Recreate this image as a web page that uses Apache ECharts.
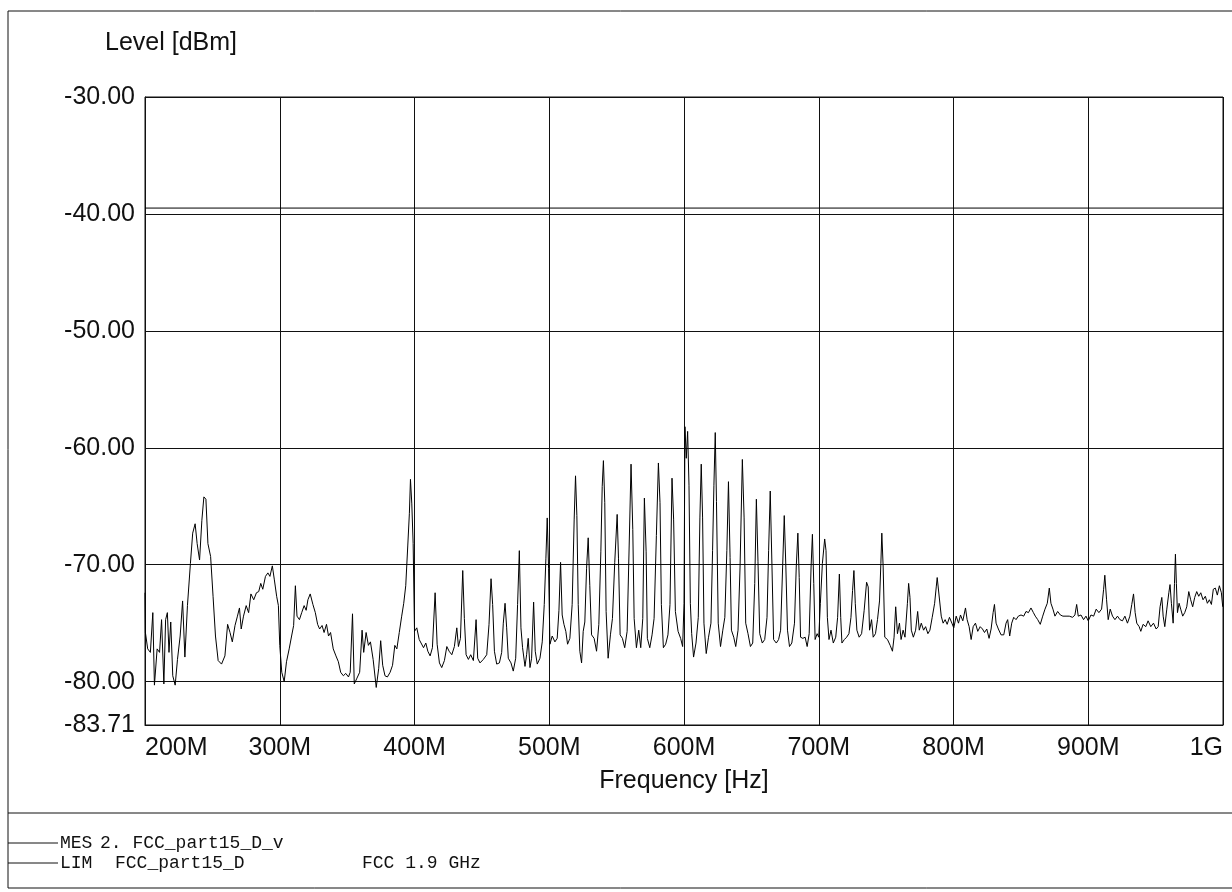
<!DOCTYPE html>
<html>
<head>
<meta charset="utf-8">
<script src="https://cdn.jsdelivr.net/npm/echarts@6/dist/echarts.min.js"></script>
<style>
  html, body { margin: 0; padding: 0; background: #fff; }
  #chart { width: 1232px; height: 892px; }
</style>
</head>
<body>
<div id="chart"></div>
<script>
// ---- data (frequency in MHz, level in dBm) ----
const xTickValues = [200, 300, 400, 500, 600, 700, 800, 900, 1000];
const xTickLabels = ['200M', '300M', '400M', '500M', '600M', '700M', '800M', '900M', '1G'];
const yMin = -83.71;
const yMax = -30;

const limitFreq = [200, 1000];
const limitLevel = [-39.5, -39.5];

const mesSeg1 = [
  [200.0,-72.4],[200.3,-75.8],[202.0,-77.2],[204.0,-77.5],[205.8,-74.1],[207.0,-80.3],[209.0,-77.2],[210.8,-77.5],
  [212.3,-74.7],[214.0,-80.2],[215.3,-74.7],[216.6,-74.1],[217.8,-77.5],[219.1,-74.9],[220.6,-79.5],[222.4,-80.3],
  [224.1,-78.1],[226.1,-76.1],[227.9,-73.1],[229.6,-77.9],[231.5,-73.5],[233.7,-69.9],[235.4,-67.3],[237.2,-66.5],
  [238.7,-68.2],[240.5,-69.6],[242.2,-66.2],[243.7,-64.2],[245.2,-64.4],[246.7,-68.2],[248.7,-69.3],[250.5,-72.7],
  [252.3,-76.1],[254.3,-78.2],[256.8,-78.5],[259.3,-77.8],[261.3,-75.1],[263.1,-75.8],[264.8,-76.6],[266.8,-75.2],
  [268.6,-74.4],[270.1,-73.7],[271.4,-75.5],[273.1,-74.4],[275.1,-73.5],[276.9,-74.1],[278.6,-72.5],[280.7,-73.0],
  [282.7,-72.4],[284.4,-72.3],[285.9,-71.6],[287.4,-72.1],[289.4,-71.0],[291.2,-70.7],[292.7,-71.0],[294.5,-70.1],
  [296.0,-71.3],[297.7,-72.7],[299.0,-73.5],[300.0,-76.9],[301.5,-79.2],[303.3,-80.0],[305.0,-78.3],[307.0,-77.2],
  [308.8,-76.1],[310.3,-75.2],[311.6,-71.8],[312.8,-74.4],[314.6,-74.7],[316.3,-74.1],[318.1,-73.5],[319.6,-73.9],
  [320.9,-73.0],[322.6,-72.5],[324.6,-73.4],[326.4,-74.1],[328.1,-75.1],[329.6,-75.5],[331.4,-75.2],[332.9,-75.8],
  [334.7,-75.1],[336.2,-76.1],[337.7,-75.8],[339.7,-77.2],[341.7,-77.8],[343.5,-78.3],[345.2,-79.2],[347.2,-79.5],
  [349.0,-79.3],[351.0,-79.6],[352.3,-79.2],[354.0,-74.2],[355.3,-80.2],[357.3,-79.7],[359.3,-79.2],[361.1,-75.6],
  [362.3,-77.5],[364.1,-75.8],[365.8,-76.9],[367.3,-76.6],[369.3,-78.1],[371.6,-80.5],[373.4,-78.9],[374.9,-76.5],
  [376.4,-78.6],[378.1,-79.5],[379.9,-79.6],[381.9,-79.2],[383.7,-78.6],[385.4,-76.9],[386.9,-77.2],[388.7,-75.8],
  [390.5,-74.4],[392.0,-73.3],[393.5,-71.8],[395.0,-68.4],[396.2,-65.6],[397.0,-62.7],[398.0,-64.8],[399.0,-68.2]
];

const mesSeg2 = [
  [400.0,-75.7],[401.7,-75.4],[403.5,-76.4],[404.9,-76.3],[406.7,-77.1],[408.4,-76.7],[409.9,-77.4],[411.6,-77.8],
  [413.3,-77.1],[415.3,-72.4],[416.8,-76.8],[418.5,-78.4],[420.2,-78.8],[422.2,-78.2],[424.0,-77.0],[425.7,-77.4],
  [427.7,-77.7],[429.6,-77.0],[431.4,-75.4],[432.6,-77.0],[434.1,-76.3],[435.8,-70.5],[437.0,-74.6],[438.3,-77.7],
  [440.0,-78.1],[441.7,-77.7],[443.7,-78.2],[445.7,-74.7],[446.9,-78.0],[448.6,-78.4],[451.1,-78.1],[453.6,-77.7],
  [455.3,-75.1],[456.8,-71.2],[458.0,-73.4],[459.3,-77.4],[461.0,-78.5],[463.0,-78.4],[464.7,-77.5],[465.9,-75.0],
  [467.2,-73.3],[468.4,-75.4],[469.6,-78.0],[471.6,-78.4],[473.3,-79.1],[475.1,-78.0],[476.5,-73.4],[477.8,-68.8],
  [479.0,-75.4],[480.2,-77.1],[482.0,-78.7],[483.2,-77.7],[484.4,-76.3],[485.7,-78.8],[486.9,-78.0],[488.4,-73.2],
  [489.6,-77.4],[491.1,-78.5],[493.1,-78.0],[494.8,-76.6],[496.3,-73.4],[497.5,-69.5],[498.5,-66.0],[499.5,-70.3],
  [500.5,-76.8],[502.2,-76.1],[504.2,-76.6],[505.9,-76.3],[507.2,-73.9],[508.4,-69.8],[509.6,-74.3],[510.9,-75.1],
  [512.3,-75.7],[513.6,-76.8],[515.3,-76.3],[517.0,-73.4],[518.5,-66.1],[519.5,-62.4],[520.5,-65.8],[521.5,-73.4],
  [522.7,-77.4],[524.0,-78.4],[525.2,-75.7],[526.4,-74.9],[527.7,-70.3],[528.9,-67.7],[530.1,-71.8],[531.4,-76.0],
  [533.3,-76.3],[535.1,-77.4],[536.8,-75.1],[538.3,-68.9],[539.3,-63.3],[540.2,-61.1],[541.2,-64.7],[542.2,-74.0],
  [543.7,-78.0],[545.4,-76.0],[546.9,-74.6],[548.6,-69.8],[550.4,-65.7],[551.4,-69.5],[552.6,-76.0],[554.3,-76.3],
  [556.0,-77.1],[557.8,-75.7],[559.3,-68.4],[560.7,-61.4],[562.0,-67.0],[563.0,-74.6],[564.7,-77.1],[566.4,-75.6],
  [567.9,-77.1],[569.4,-74.6],[570.6,-64.3],[571.9,-68.9],[572.8,-76.3],[574.6,-77.1],[576.3,-76.0],[577.8,-74.6],
  [579.5,-67.5],[581.0,-61.3],[582.2,-64.7],[583.2,-73.4],[584.7,-77.1],[586.4,-76.8],[588.1,-76.0],[589.6,-73.4],
  [591.1,-62.6],[592.3,-66.1],[593.6,-74.0],[595.6,-75.7],[597.5,-76.3]
];

const mesSeg3 = [
  [599.0,-77.0],[600.0,-73.3],[600.7,-58.2],[601.7,-60.9],[602.7,-58.6],[603.7,-63.2],[604.7,-73.3],[605.7,-75.9],
  [607.1,-77.9],[608.9,-76.7],[610.6,-74.5],[611.8,-66.0],[612.8,-61.4],[613.8,-66.0],[614.8,-75.0],[616.5,-77.6],
  [618.2,-76.2],[620.0,-75.0],[621.2,-68.8],[622.2,-63.2],[623.2,-58.7],[624.1,-64.6],[625.4,-75.0],[627.1,-77.0],
  [628.8,-75.6],[630.3,-74.5],[631.8,-68.8],[633.0,-62.9],[634.2,-69.4],[635.2,-75.6],[636.9,-76.2],[638.4,-77.0],
  [640.1,-75.6],[641.6,-70.2],[643.3,-61.0],[644.6,-66.0],[645.8,-75.0],[647.5,-75.9],[649.3,-77.0],[651.0,-76.7],
  [652.5,-71.6],[653.7,-64.4],[654.9,-69.7],[656.2,-75.9],[658.1,-76.7],[659.9,-76.4],[661.6,-74.5],[662.8,-68.8],
  [664.0,-63.7],[665.3,-70.2],[666.5,-76.4],[668.5,-76.7],[670.2,-76.4],[671.7,-75.6],[673.2,-70.2],[674.4,-65.8],
  [675.6,-70.2],[676.8,-75.6],[678.3,-77.0],[680.0,-76.7],[682.0,-75.0],[683.3,-70.2],[684.5,-67.3],[685.5,-71.1],
  [686.5,-76.2],[688.2,-76.3],[689.9,-76.2],[691.4,-77.0],[692.9,-75.9],[694.3,-70.2],[695.3,-67.4],[696.3,-71.6],
  [697.3,-76.4],[698.8,-75.9],[700.0,-76.2],[701.2,-73.3],[702.7,-69.9],[704.4,-67.8],[705.4,-68.8],[706.4,-74.5],
  [707.6,-76.4],[709.1,-75.6],[710.8,-76.7],[712.6,-76.2],[714.0,-74.5],[715.3,-70.8],[716.3,-74.5],[717.2,-76.7],
  [719.0,-76.4],[720.7,-76.2],[722.4,-75.9],[723.9,-74.5],[725.1,-72.2],[726.1,-70.5],[727.1,-73.3],[728.3,-75.6],
  [730.0,-76.2],[731.8,-75.9],[733.7,-73.9],[735.5,-71.5],[736.7,-71.9],[737.7,-75.6],[739.2,-74.7],[740.4,-76.2],
  [742.1,-75.9],[743.6,-74.7],[745.1,-73.1],[746.1,-69.9],[746.8,-67.3],[747.8,-70.2],[749.0,-76.2],[751.0,-76.4],
  [753.0,-76.9],[754.7,-77.4],[755.9,-76.2],[757.1,-73.6],[758.4,-75.9],[759.9,-75.0],[761.1,-76.4],[762.6,-75.6],
  [764.0,-76.2],[765.8,-73.3],[766.7,-71.6],[767.7,-72.8],[768.7,-75.6],[770.2,-76.2],[771.9,-75.6],[773.4,-74.0],
  [774.6,-75.6],[776.1,-75.0],[777.8,-75.6],[779.3,-75.3],[781.0,-75.9],[782.5,-75.6],[784.2,-74.5],[786.0,-73.3],
  [787.2,-71.9],[787.9,-71.1]
];

const mesSeg4 = [
  [790.9,-74.4],[792.3,-75.0],[793.8,-74.7],[795.3,-75.1],[797.0,-74.5],[798.8,-75.0],[800.2,-75.4],[802.0,-74.4],
  [803.7,-75.0],[805.2,-74.3],[806.9,-74.8],[808.9,-73.7],[810.1,-74.7],[811.6,-75.3],[813.1,-76.4],[814.6,-75.3],
  [816.3,-75.0],[818.0,-75.7],[819.8,-75.3],[821.5,-75.5],[823.0,-75.8],[824.7,-75.5],[826.4,-76.3],[827.9,-75.5],
  [829.4,-74.1],[830.4,-73.4],[831.6,-75.0],[833.3,-75.5],[835.3,-76.0],[837.3,-76.0],[839.0,-75.0],[840.2,-74.7],
  [841.7,-76.1],[843.2,-75.0],[844.7,-74.5],[846.4,-74.7],[848.1,-74.4],[850.1,-74.3],[852.1,-74.4],[853.8,-74.0],
  [855.6,-74.1],[857.5,-73.7],[859.3,-74.1],[860.7,-74.4],[862.5,-74.7],[864.4,-75.1],[866.2,-74.4],[867.9,-73.8],
  [869.6,-73.3],[871.1,-72.0],[872.3,-73.3],[873.8,-73.8],[875.3,-74.4],[877.3,-74.0],[879.3,-74.3],[881.2,-74.4],
  [883.5,-74.4],[885.9,-74.4],[888.4,-74.5],[890.1,-74.3],[891.4,-73.4],[892.6,-74.4],[894.6,-74.3],[896.5,-74.7],
  [898.3,-74.4],[900.0,-74.8],[902.0,-74.3],[904.0,-74.4],[905.9,-73.8],[907.9,-74.1],[909.9,-73.8],[911.4,-72.1],
  [912.3,-70.9],[913.6,-73.0],[914.8,-74.7],[916.3,-73.8],[918.0,-74.4],[919.8,-74.7],[921.7,-74.4],[923.5,-74.7],
  [925.4,-74.8],[927.2,-74.4],[929.1,-75.0],[930.9,-74.4],[932.3,-73.4],[933.6,-72.5],[934.8,-74.1],[936.0,-75.0],
  [937.8,-75.3],[939.0,-75.7],[940.7,-75.1],[942.7,-75.3],[944.4,-74.8],[946.4,-75.3],[948.4,-75.0],[950.4,-75.5],
  [951.9,-75.3],[953.3,-73.6],[954.6,-72.8],[955.6,-74.4],[956.8,-75.3],[958.3,-73.8],[959.8,-72.4],[960.7,-71.7],
  [961.7,-73.3],[963.0,-75.0],[964.0,-71.6],[964.7,-69.1],[965.4,-71.6],[966.2,-74.1],[967.4,-73.3],[968.6,-73.8],
  [970.1,-74.4],[971.6,-74.1],[973.1,-73.6],[974.6,-72.3],[976.0,-73.0],[977.5,-73.6],[979.0,-72.8],[980.5,-72.3],
  [982.0,-72.7],[983.5,-72.4],[985.2,-73.0],[986.9,-72.7],[988.4,-73.3],[989.9,-73.0],[991.4,-73.4],[992.8,-72.1],
  [994.3,-72.0],[995.8,-72.6],[997.3,-71.8],[998.8,-72.4],[999.8,-73.6]
];

const mesTrace = mesSeg1.concat(mesSeg2, mesSeg3, mesSeg4);
const limitTrace = limitFreq.map((f, i) => [f, limitLevel[i]]);

const legendRows = [
  { tag: 'MES', name: '2. FCC_part15_D_v', extra: '' },
  { tag: 'LIM', name: 'FCC_part15_D', extra: 'FCC 1.9 GHz' }
];

// ---- chart ----
const chart = echarts.init(document.getElementById('chart'), null, { renderer: 'canvas' });
const FONT = '"Liberation Sans", Arial, sans-serif';
const MONO = '"Liberation Mono", "DejaVu Sans Mono", monospace';
const INK = '#111';

const legendGraphics = [];
const rowY = [844, 864];
const nameX = [100, 115];
legendRows.forEach((r, i) => {
  legendGraphics.push({ type: 'line', shape: { x1: 8, y1: rowY[i] - 1, x2: 58, y2: rowY[i] - 1 }, style: { stroke: INK, lineWidth: 1 } });
  legendGraphics.push({ type: 'text', left: 60, top: rowY[i] - 10, style: { text: r.tag, font: '18px ' + MONO, fill: INK } });
  legendGraphics.push({ type: 'text', left: nameX[i], top: rowY[i] - 10, style: { text: r.name, font: '18px ' + MONO, fill: INK } });
  if (r.extra) legendGraphics.push({ type: 'text', left: 362, top: rowY[i] - 10, style: { text: r.extra, font: '18px ' + MONO, fill: INK } });
});

chart.setOption({
  animation: false,
  backgroundColor: '#fff',
  grid: { left: 145, right: 9, top: 97, bottom: 167, show: true, borderColor: INK, borderWidth: 1, containLabel: false },
  xAxis: {
    type: 'value', min: 200, max: 1000, interval: 100,
    name: 'Frequency [Hz]', nameLocation: 'middle', nameGap: 44,
    nameTextStyle: { fontFamily: FONT, fontSize: 25, color: INK, verticalAlign: 'top' },
    axisLine: { show: true, onZero: false, lineStyle: { color: INK, width: 1 } },
    axisTick: { show: false },
    splitLine: { show: true, lineStyle: { color: INK, width: 1 } },
    axisLabel: {
      fontFamily: FONT, fontSize: 25, color: INK, margin: 11,
      showMinLabel: true, showMaxLabel: true,
      alignMinLabel: 'left', alignMaxLabel: 'right',
      formatter: v => { const i = xTickValues.indexOf(v); return i >= 0 ? xTickLabels[i] : ''; }
    }
  },
  yAxis: {
    type: 'value', min: yMin, max: yMax, minInterval: 10, maxInterval: 10,
    axisLine: { show: true, lineStyle: { color: INK, width: 1 } },
    axisTick: { show: false },
    splitLine: { show: true, lineStyle: { color: INK, width: 1 } },
    axisLabel: {
      fontFamily: FONT, fontSize: 25, color: INK, margin: 10,
      showMinLabel: true, showMaxLabel: true,
      formatter: v => v.toFixed(2)
    }
  },
  graphic: [
    { type: 'rect', shape: { x: 8, y: 11, width: 1240, height: 877 }, style: { fill: 'none', stroke: INK, lineWidth: 1 }, silent: true },
    { type: 'line', shape: { x1: 8, y1: 813, x2: 1232, y2: 813 }, style: { stroke: INK, lineWidth: 1 } },
    { type: 'text', left: 105, top: 31, style: { text: 'Level [dBm]', font: '25px ' + FONT, fill: INK } }
  ].concat(legendGraphics),
  series: [
    {
      name: 'MES', type: 'line', data: mesTrace, showSymbol: false, symbol: 'none',
      lineStyle: { color: '#000', width: 1 }, clip: true, z: 3
    },
    {
      name: 'LIM', type: 'line', data: limitTrace, showSymbol: false, symbol: 'none',
      lineStyle: { color: '#000', width: 1 }, z: 3
    }
  ]
});
</script>
</body>
</html>
